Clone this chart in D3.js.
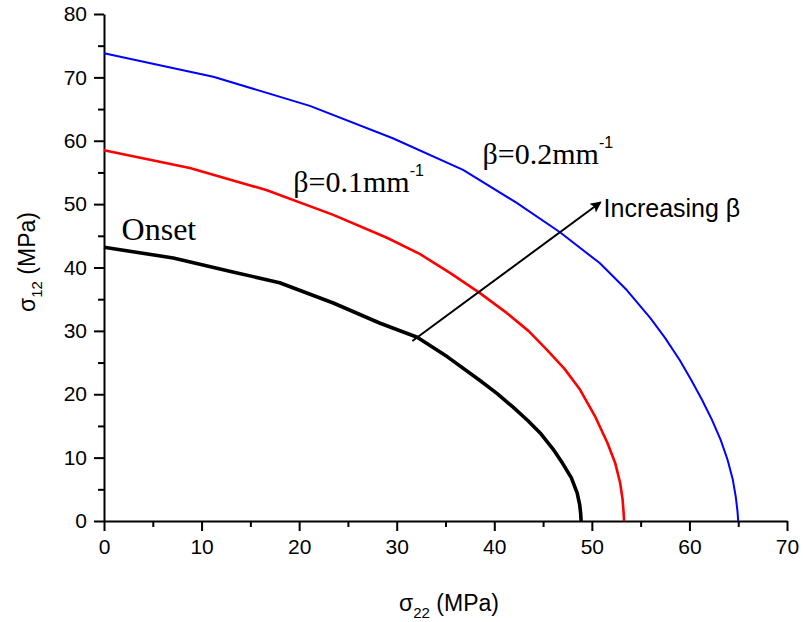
<!DOCTYPE html>
<html>
<head>
<meta charset="utf-8">
<script src="https://cdn.jsdelivr.net/npm/d3@7"></script>
<style>
  body { margin: 0; background: #fff; }
  .axis path, .axis line { stroke: #000; stroke-width: 2px; }
  .axis text { font-family: "Liberation Sans", Arial, sans-serif; font-size: 21px; fill: #000; }
  .curve { fill: none; stroke-linejoin: round; }
  .serif { font-family: "Liberation Serif", "Times New Roman", serif; }
  .sans { font-family: "Liberation Sans", Arial, sans-serif; }
</style>
</head>
<body>
<div id="chart"></div>
<script>
/* ================= Data ================= */

// onset curve
const onsetX = [0, 7.1, 13.2, 18, 23.5, 28.3, 32.1, 35.2, 38.5, 40.3, 41.9, 43.4, 44.7, 46.0, 47.0, 47.9, 48.5, 48.75, 48.85, 48.9];
const onsetY = [43.2, 41.5, 39.3, 37.6, 34.4, 31.2, 29, 25.9, 22.2, 20.1, 18, 15.9, 13.9, 11.4, 9.1, 6.8, 4.4, 2.6, 1.2, 0];

// beta = 0.1 mm^-1
const beta1X = [0, 8.8, 16.7, 23.5, 29, 32.4, 35.5, 38.5, 41.3, 43.5, 45.4, 47.2, 48.8, 50.3, 51.6, 52.4, 52.9, 53.15, 53.25, 53.3];
const beta1Y = [58.5, 55.7, 52.2, 48.3, 44.7, 42.1, 39.1, 36, 32.8, 30.0, 27, 24.0, 20.7, 16.6, 12.3, 9.1, 6, 3.4, 1.4, 0];

// beta = 0.2 mm^-1
const beta2X = [0, 11.2, 21.1, 29.6, 36.8, 42.3, 46.7, 50.8, 53.6, 56.0, 57.5, 59.0, 60.2, 61.3, 62.3, 63.2, 63.9, 64.45, 64.75, 64.92, 65.0];
const beta2Y = [73.8, 70.1, 65.5, 60.4, 55.4, 50.2, 45.6, 40.7, 36.4, 32, 28.9, 25.4, 22.2, 19.1, 16.0, 12.8, 9.7, 6.5, 3.8, 1.6, 0];

const xTicks = [0, 10, 20, 30, 40, 50, 60, 70];
const yTicks = [0, 10, 20, 30, 40, 50, 60, 70, 80];

/* ================= Layout ================= */

const W = 803, H = 622;
const margin = { top: 14, right: 16, bottom: 101, left: 104 };
const width = W - margin.left - margin.right;
const height = H - margin.top - margin.bottom;

const svg = d3.select("#chart")
  .append("svg")
  .attr("width", W)
  .attr("height", H);

const g = svg.append("g")
  .attr("transform", `translate(${margin.left},${margin.top})`);

/* ===== Scales ===== */

const x = d3.scaleLinear().domain([0, 70]).range([0, width]);
const y = d3.scaleLinear().domain([0, 80]).range([height, 0]);

/* ===== Axes ===== */

// minor ticks first
g.append("g")
  .attr("class", "axis")
  .attr("transform", `translate(0,${height})`)
  .call(d3.axisBottom(x).tickValues(d3.range(5, 70, 10)).tickSize(6).tickFormat(""))
  .select(".domain").remove();

g.append("g")
  .attr("class", "axis")
  .call(d3.axisLeft(y).tickValues(d3.range(5, 80, 10)).tickSize(6).tickFormat(""))
  .select(".domain").remove();

const xAxis = g.append("g")
  .attr("class", "axis")
  .attr("transform", `translate(0,${height})`)
  .call(d3.axisBottom(x).tickValues(xTicks).tickSize(10).tickSizeOuter(0).tickPadding(5));
xAxis.selectAll("text").attr("dy", "0.85em");

g.append("g")
  .attr("class", "axis")
  .call(d3.axisLeft(y).tickValues(yTicks).tickSize(10).tickSizeOuter(0).tickPadding(7));

/* ===== Curves ===== */

const line = d3.line()
  .x(d => x(d[0]))
  .y(d => y(d[1]));

const series = [
  { xs: beta2X, ys: beta2Y, color: "#0000ff", w: 2 },
  { xs: beta1X, ys: beta1Y, color: "#ff0000", w: 2.6 },
  { xs: onsetX, ys: onsetY, color: "#000000", w: 3.6 }
];

series.forEach(s => {
  g.append("path")
    .datum(d3.zip(s.xs, s.ys))
    .attr("class", "curve")
    .attr("stroke", s.color)
    .attr("stroke-width", s.w)
    .attr("d", line);
});

/* ===== Annotations ===== */

g.append("text")
  .attr("class", "serif")
  .attr("x", x(1.8))
  .attr("y", y(44.3))
  .attr("font-size", 32)
  .text("Onset");

function betaLabel(px, py, txt) {
  const t = g.append("text")
    .attr("class", "serif")
    .attr("x", x(px))
    .attr("y", y(py))
    .attr("font-size", 30)
    .text(txt);
  t.append("tspan")
    .attr("class", "sans")
    .attr("font-size", 16)
    .attr("dy", -16)
    .text("-1");
}
betaLabel(19.4, 51.9, "β=0.1mm");
betaLabel(38.8, 56.3, "β=0.2mm");

const defs = svg.append("defs");
defs.append("marker")
  .attr("id", "arrow")
  .attr("viewBox", "0 0 10 10")
  .attr("refX", 9)
  .attr("refY", 5)
  .attr("markerWidth", 17)
  .attr("markerHeight", 11)
  .attr("markerUnits", "userSpaceOnUse")
  .attr("orient", "auto")
  .append("path")
  .attr("d", "M0,0 L10,5 L0,10 L2,5 z")
  .attr("fill", "#000");

g.append("line")
  .attr("x1", x(31.6))
  .attr("y1", y(28.4))
  .attr("x2", x(50.9))
  .attr("y2", y(50.3))
  .attr("stroke", "#000")
  .attr("stroke-width", 2)
  .attr("marker-end", "url(#arrow)");

g.append("text")
  .attr("class", "sans")
  .attr("x", x(51.2))
  .attr("y", y(47.9))
  .attr("font-size", 25)
  .text("Increasing β");

/* ===== Axis titles ===== */

const xt = svg.append("text")
  .attr("class", "sans")
  .attr("x", 449)
  .attr("y", 611)
  .attr("font-size", 23)
  .attr("text-anchor", "middle");
xt.append("tspan").text("σ");
xt.append("tspan").attr("font-size", 15).attr("dy", 7).text("22");
xt.append("tspan").attr("dy", -7).text(" (MPa)");

const yt = svg.append("text")
  .attr("class", "sans")
  .attr("transform", "translate(35,262) rotate(-90)")
  .attr("font-size", 23)
  .attr("text-anchor", "middle");
yt.append("tspan").text("σ");
yt.append("tspan").attr("font-size", 15).attr("dy", 7).text("12");
yt.append("tspan").attr("dy", -7).text(" (MPa)");
</script>
</body>
</html>
